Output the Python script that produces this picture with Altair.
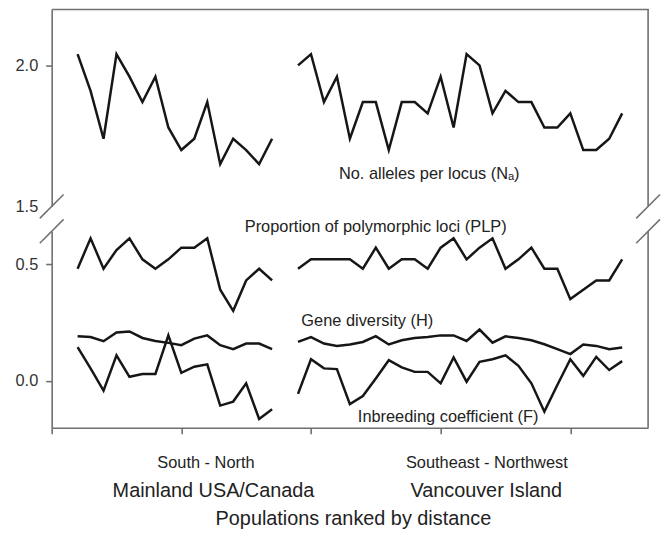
import altair as alt
import pandas as pd

FONT = "Liberation Sans"
AXIS_GRAY = "#6f6f6f"
LINE_COL = "#161616"
TEXT_COL = "#222222"

# population ranks (mainland: South -> North, Vancouver Island: Southeast -> Northwest)
main_rank = list(range(0, 16))
van_rank = list(range(17, 43))

# No. alleles per locus (Na)
na_main = [2.04, 1.91, 1.74, 2.04, 1.96, 1.87, 1.96, 1.78, 1.70, 1.74, 1.87, 1.65, 1.74, 1.70, 1.65, 1.74]
na_van = [2.00, 2.04, 1.87, 1.96, 1.74, 1.87, 1.87, 1.70, 1.87, 1.87, 1.83, 1.96, 1.78,
          2.04, 2.00, 1.83, 1.91, 1.87, 1.87, 1.78, 1.78, 1.83, 1.70, 1.70, 1.74, 1.83]

# Proportion of polymorphic loci (PLP)
plp_main = [0.48, 0.61, 0.48, 0.56, 0.61, 0.52, 0.48, 0.52, 0.57, 0.57, 0.61, 0.39, 0.30, 0.43, 0.48, 0.43]
plp_van = [0.48, 0.52, 0.52, 0.52, 0.52, 0.48, 0.57, 0.48, 0.52, 0.52, 0.48, 0.57, 0.61,
           0.52, 0.57, 0.61, 0.48, 0.52, 0.57, 0.48, 0.48, 0.35, 0.39, 0.43, 0.43, 0.52]

# Gene diversity (H)
h_main = [0.191, 0.188, 0.170, 0.207, 0.212, 0.184, 0.171, 0.163, 0.153, 0.181, 0.195, 0.153,
          0.136, 0.160, 0.160, 0.136]
h_van = [0.167, 0.188, 0.160, 0.150, 0.156, 0.167, 0.192, 0.156, 0.174, 0.184, 0.188, 0.195, 0.195,
         0.171, 0.220, 0.164, 0.191, 0.184, 0.174, 0.157, 0.136, 0.115, 0.156, 0.150, 0.136, 0.143]

# Inbreeding coefficient (F)
f_main = [0.145, 0.054, -0.041, 0.110, 0.018, 0.030, 0.030, 0.195, 0.035, 0.061, 0.071, -0.105,
          -0.088, -0.010, -0.162, -0.121]
f_van = [-0.055, 0.093, 0.054, 0.051, -0.099, -0.064, 0.011, 0.089, 0.058, 0.039, 0.039, -0.010, 0.101,
         -0.003, 0.082, 0.093, 0.110, 0.065, -0.010, -0.131, -0.017, 0.093, 0.022, 0.103, 0.047, 0.085]

# annotation texts (in data coordinates)
upper_labels = ["No. alleles per locus (N\u2090)"]
upper_lab_x = [27.12]
upper_lab_y = [1.616]

lower_labels = ["Proportion of polymorphic loci (PLP)", "Gene diversity (H)", "Inbreeding coefficient (F)",
                "South - North", "Southeast - Northwest"]
lower_lab_x = [22.99, 22.34, 28.58, 9.90, 31.56]
lower_lab_y = [0.657, 0.258, -0.152, -0.349, -0.349]

big_labels = ["Mainland USA/Canada", "Vancouver Island", "Populations ranked by distance"]
big_lab_x = [10.48, 31.52, 21.27]
big_lab_y = [-0.472, -0.472, -0.590]

X_DOM = [-2, 44]
UP_DOM = [1.5, 2.2]
LO_DOM = [-0.2, 0.64]
X_TICKS = [-2, 8, 18, 28, 38]


def long(series, name):
    rows = []
    for region, ranks, vals in series:
        for r, v in zip(ranks, vals):
            rows.append({"rank": r, "value": v, "grp": f"{name}-{region}"})
    return rows


up_df = pd.DataFrame(long([("main", main_rank, na_main), ("van", van_rank, na_van)], "Na"))
lo_df = pd.DataFrame(
    long([("main", main_rank, plp_main), ("van", van_rank, plp_van)], "PLP")
    + long([("main", main_rank, h_main), ("van", van_rank, h_van)], "H")
    + long([("main", main_rank, f_main), ("van", van_rank, f_van)], "F")
)

xs = alt.Scale(domain=X_DOM, nice=False, zero=False)
ys_up = alt.Scale(domain=UP_DOM, nice=False, zero=False)
ys_lo = alt.Scale(domain=LO_DOM, nice=False, zero=False)

y_axis_common = dict(format=".1f", title=None, tickSize=6, labelPadding=8,
                     labelFontSize=16.5, labelFont=FONT, labelColor="#333333")


def X(scale=xs):
    return alt.X("rank:Q", scale=scale, title=None)


def Y(scale):
    return alt.Y("value:Q", scale=scale, title=None)


# ---------------- upper panel ----------------
up_lines = alt.Chart(up_df).mark_line(color=LINE_COL, strokeWidth=2.5).encode(
    x=alt.X("rank:Q", scale=xs,
            axis=alt.Axis(orient="top", ticks=False, labels=False, title=None, domain=True)),
    y=alt.Y("value:Q", scale=ys_up,
            axis=alt.Axis(values=[1.5, 2.0],
                          tickOpacity={"condition": {"test": "datum.value == 1.5", "value": 0}, "value": 1},
                          **y_axis_common)),
    detail="grp:N",
)

up_border = alt.Chart(pd.DataFrame({"rank": [X_DOM[1]], "value": [UP_DOM[0]], "v2": [UP_DOM[1]]})).mark_rule(
    color=AXIS_GRAY, strokeWidth=1.6
).encode(x=X(), y=Y(ys_up), y2="v2:Q")


def slash(xv, yv, yscale):
    return alt.Chart(pd.DataFrame({"rank": [xv], "value": [yv]})).mark_rule(
        color=AXIS_GRAY, strokeWidth=1.5, xOffset=-12, x2Offset=12, yOffset=12, y2Offset=-12
    ).encode(x=X(), x2="rank:Q", y=Y(yscale), y2="value:Q")


up_text = alt.Chart(pd.DataFrame({"rank": upper_lab_x, "value": upper_lab_y, "label": upper_labels})).mark_text(
    font=FONT, fontSize=16.5, color=TEXT_COL, align="center", baseline="middle"
).encode(x=X(), y=Y(ys_up), text="label:N")

upper = alt.layer(
    up_lines, up_border,
    slash(X_DOM[0], UP_DOM[0], ys_up), slash(X_DOM[1], UP_DOM[0], ys_up),
    up_text,
).properties(width=601, height=199)

# ---------------- lower panel ----------------
lo_lines = alt.Chart(lo_df).mark_line(color=LINE_COL, strokeWidth=2.5).encode(
    x=alt.X("rank:Q", scale=xs,
            axis=alt.Axis(values=X_TICKS, labels=False, title=None, tickSize=6, domain=True)),
    y=alt.Y("value:Q", scale=ys_lo, axis=alt.Axis(values=[0.0, 0.5], **y_axis_common)),
    detail="grp:N",
)

lo_border = alt.Chart(pd.DataFrame({"rank": [X_DOM[1]], "value": [LO_DOM[0]], "v2": [LO_DOM[1]]})).mark_rule(
    color=AXIS_GRAY, strokeWidth=1.6
).encode(x=X(), y=Y(ys_lo), y2="v2:Q")

lo_text = alt.Chart(pd.DataFrame({"rank": lower_lab_x, "value": lower_lab_y, "label": lower_labels})).mark_text(
    font=FONT, fontSize=16.5, color=TEXT_COL, align="center", baseline="middle"
).encode(x=X(), y=Y(ys_lo), text="label:N")

big_text = alt.Chart(pd.DataFrame({"rank": big_lab_x, "value": big_lab_y, "label": big_labels})).mark_text(
    font=FONT, fontSize=20, color=TEXT_COL, align="center", baseline="middle"
).encode(x=X(), y=Y(ys_lo), text="label:N")

lower = alt.layer(
    lo_lines, lo_border,
    slash(X_DOM[0], LO_DOM[1], ys_lo), slash(X_DOM[1], LO_DOM[1], ys_lo),
    lo_text, big_text,
).properties(width=601, height=198)

chart = (
    alt.vconcat(upper, lower, spacing=25, bounds="flush")
    .properties(padding={"left": 7, "top": -2, "right": 0, "bottom": 0}, background="white")
    .configure_view(stroke=None)
    .configure_axis(grid=False, domainColor=AXIS_GRAY, domainWidth=1.6,
                    tickColor=AXIS_GRAY, tickWidth=1.6)
)

chart.save("out.html", embed_options={"renderer": "svg", "actions": False})
